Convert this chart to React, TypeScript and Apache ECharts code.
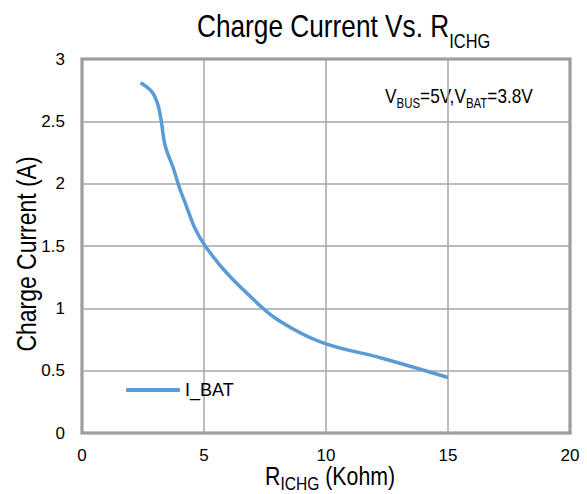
import React, { useEffect, useRef } from 'react';
import * as echarts from 'echarts';

// Charge current vs. ICHG resistor value
const rIchg = [2.4, 2.85, 3.1, 3.25, 3.4, 3.75, 4.1, 5.05, 7.3, 8.6, 10, 12.3, 15];
const iBat = [2.81, 2.74, 2.64, 2.5, 2.31, 2.12, 1.91, 1.5, 1.02, 0.84, 0.715, 0.6, 0.445];
const seriesName = 'I_BAT';

const xMin = 0;
const xMax = 20;
const xStep = 5;
const yMin = 0;
const yMax = 3;
const yStep = 0.5;

// Text runs: [text, isSubscript]
const titleRun: [string, boolean][] = [['Charge Current Vs. R', false], ['ICHG', true]];
const noteRun: [string, boolean][] = [
  ['V', false], ['BUS', true], ['=5V,V', false], ['BAT', true], ['=3.8V', false],
];
const xNameRun: [string, boolean][] = [['R', false], ['ICHG', true], [' (Kohm)', false]];
const yName = 'Charge Current (A)';

const FONT = '"Liberation Sans", Arial, sans-serif';
const NARROW = 0.82; // horizontal squeeze for a narrow sans look

let measureCtx: CanvasRenderingContext2D | null = null;
function textWidth(t: string, size: number): number {
  if (!measureCtx) measureCtx = document.createElement('canvas').getContext('2d');
  if (!measureCtx) return t.length * size * 0.55;
  measureCtx.font = `${size}px "Liberation Sans", Arial, sans-serif`;
  return measureCtx.measureText(t).width;
}

// Lay out a run of normal and subscript pieces along one baseline
function subscriptRun(
  pieces: [string, boolean][],
  x0: number,
  baseline: number,
  mainSize: number,
  subSize: number,
  drop: number,
) {
  const els: any[] = [];
  let x = x0;
  for (const [t, sub] of pieces) {
    const size = sub ? subSize : mainSize;
    const by = baseline + (sub ? drop : 0);
    els.push({
      type: 'text',
      x,
      y: by - 0.3465 * size,
      scaleX: NARROW,
      style: {
        text: t,
        fontFamily: FONT,
        fontSize: size,
        fill: '#000',
        align: 'left',
        verticalAlign: 'middle',
      },
    });
    x += textWidth(t, size) * NARROW;
  }
  return els;
}

export default function App() {
  const ref = useRef<HTMLDivElement>(null);

  useEffect(() => {
    document.body.style.margin = '0';
    if (!ref.current) return;
    const chart = echarts.init(ref.current, undefined, { renderer: 'svg' });

    const option: echarts.EChartsOption = {
      animation: false,
      backgroundColor: '#ffffff',
      textStyle: { fontFamily: FONT },
      grid: {
        left: 82,
        right: 17,
        top: 59,
        bottom: 61,
        show: true,
        borderColor: '#878787',
        borderWidth: 3,
        containLabel: false,
      },
      legend: {
        data: [seriesName],
        left: 121,
        top: 376,
        icon: 'roundRect',
        itemWidth: 54,
        itemHeight: 4,
        itemGap: 6,
        textStyle: { fontFamily: FONT, fontSize: 18, color: '#000' },
      },
      xAxis: {
        type: 'value',
        min: xMin,
        max: xMax,
        interval: xStep,
        axisLine: { show: false },
        axisTick: { show: false },
        axisLabel: { fontFamily: FONT, fontSize: 17, color: '#000', margin: 14 },
        splitLine: { show: true, lineStyle: { color: '#a6a6a6', width: 1.5 } },
      },
      yAxis: {
        type: 'value',
        min: yMin,
        max: yMax,
        interval: yStep,
        axisLine: { show: false },
        axisTick: { show: false },
        axisLabel: { fontFamily: FONT, fontSize: 17, color: '#000', margin: 17 },
        splitLine: { show: true, lineStyle: { color: '#a6a6a6', width: 1.5 } },
      },
      series: [
        {
          name: seriesName,
          type: 'line',
          data: rIchg.map((r, i) => [r, iBat[i]]),
          smooth: 0.4,
          symbol: 'none',
          lineStyle: { color: '#5b9bd5', width: 3.5 },
          itemStyle: { color: '#5b9bd5' },
        },
      ],
      graphic: [
        ...subscriptRun(titleRun, 197, 36.7, 32, 20, 11.6),
        ...subscriptRun(noteRun, 385, 103.3, 21, 14, 5),
        ...subscriptRun(xNameRun, 265, 485, 26, 19, 5.5),
        {
          type: 'text',
          x: 26,
          y: 254,
          rotation: Math.PI / 2,
          scaleX: NARROW,
          style: {
            text: yName,
            fontFamily: FONT,
            fontSize: 28,
            fill: '#000',
            align: 'center',
            verticalAlign: 'middle',
          },
        },
      ],
    };

    chart.setOption(option);
    return () => chart.dispose();
  }, []);

  return <div ref={ref} style={{ width: 587, height: 494 }} />;
}
